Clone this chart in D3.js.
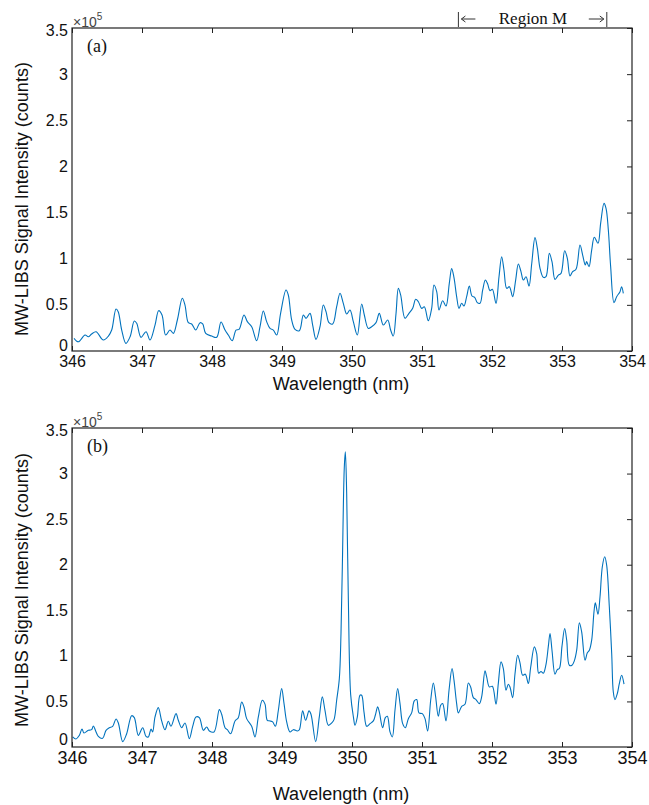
<!DOCTYPE html>
<html><head><meta charset="utf-8">
<script src="https://cdn.jsdelivr.net/npm/d3@7"></script>
<style>
html,body{margin:0;padding:0;background:#fff;}
svg{display:block;}
</style></head>
<body>
<svg id="chart" width="649" height="805"></svg>
<script>
// ---- data (intensity in units of 10^5 counts) ----
const wavelengthA = [346.029,346.09,346.186,346.233,346.28,346.343,346.448,346.52,346.567,346.629,346.66,346.71,346.77,346.83,346.89,346.924,346.986,347.057,347.114,347.186,347.238,347.286,347.338,347.4,347.448,347.505,347.576,347.614,347.662,347.71,347.767,347.829,347.867,347.91,347.995,348.067,348.129,348.186,348.233,348.29,348.343,348.386,348.457,348.505,348.567,348.638,348.686,348.733,348.781,348.829,348.876,348.924,348.98,349.057,349.09,349.138,349.186,349.248,349.305,349.343,349.4,349.438,349.486,349.543,349.59,349.629,349.671,349.724,349.781,349.829,349.876,349.924,349.971,350.019,350.076,350.138,350.176,350.233,350.281,350.343,350.39,350.448,350.51,350.552,350.59,350.629,350.662,350.695,350.757,350.814,350.867,350.91,350.948,350.995,351.033,351.09,351.138,351.171,351.21,351.243,351.295,351.343,351.39,351.424,351.457,351.495,351.529,351.567,351.6,351.638,351.676,351.714,351.752,351.79,351.829,351.867,351.905,351.938,351.971,352.005,352.057,352.1,352.138,352.171,352.21,352.248,352.295,352.338,352.376,352.414,352.448,352.486,352.529,352.567,352.614,352.648,352.686,352.733,352.771,352.819,352.857,352.9,352.948,352.986,353.038,353.076,353.114,353.152,353.2,353.257,353.295,353.333,353.352,353.386,353.424,353.462,353.514,353.552,353.6,353.629,353.662,353.695,353.743,353.781,353.829,353.852,353.876];
const intensityA = [0.137,0.10,0.173,0.155,0.184,0.209,0.119,0.162,0.227,0.455,0.426,0.227,0.083,0.155,0.325,0.30,0.148,0.209,0.119,0.281,0.437,0.39,0.173,0.227,0.191,0.336,0.571,0.498,0.307,0.293,0.227,0.307,0.293,0.191,0.162,0.148,0.314,0.227,0.173,0.112,0.227,0.234,0.39,0.318,0.263,0.112,0.263,0.434,0.318,0.245,0.227,0.173,0.408,0.661,0.607,0.336,0.234,0.22,0.39,0.354,0.408,0.281,0.126,0.263,0.498,0.426,0.307,0.293,0.48,0.625,0.516,0.401,0.444,0.318,0.173,0.509,0.39,0.245,0.263,0.307,0.408,0.281,0.336,0.227,0.162,0.408,0.679,0.607,0.354,0.408,0.462,0.56,0.534,0.462,0.48,0.329,0.462,0.715,0.643,0.444,0.545,0.488,0.733,0.893,0.795,0.589,0.462,0.517,0.488,0.589,0.704,0.596,0.582,0.524,0.517,0.661,0.769,0.726,0.654,0.668,0.517,0.805,1.022,0.878,0.679,0.697,0.589,0.769,0.943,0.86,0.769,0.805,0.704,0.943,1.228,1.112,0.896,0.798,0.805,1.058,0.968,0.776,0.823,0.841,1.087,1.004,0.812,0.86,0.885,1.148,1.04,0.932,0.968,0.914,1.094,1.232,1.167,1.383,1.6,1.546,1.311,0.914,0.524,0.589,0.643,0.697,0.625];

const wavelengthB = [346.01,346.057,346.105,346.143,346.171,346.233,346.281,346.305,346.338,346.376,346.438,346.486,346.533,346.581,346.629,346.662,346.724,346.781,346.852,346.89,346.948,347.01,347.057,347.09,347.129,347.152,347.186,347.233,347.281,347.329,347.376,347.414,347.486,347.519,347.567,347.614,347.676,347.724,347.771,347.819,347.876,347.924,347.962,348.029,348.105,348.138,348.186,348.219,348.267,348.329,348.376,348.424,348.457,348.495,348.567,348.614,348.662,348.719,348.757,348.79,348.829,348.867,348.905,348.948,348.995,349.029,349.067,349.114,349.162,349.219,349.248,349.295,349.338,349.386,349.414,349.481,349.533,349.576,349.614,349.662,349.71,349.743,349.781,349.819,349.843,349.862,349.89,349.905,349.924,349.948,349.981,350.02,350.043,350.076,350.114,350.138,350.171,350.21,350.257,350.305,350.333,350.367,350.39,350.438,350.476,350.505,350.543,350.576,350.614,350.652,350.686,350.724,350.762,350.805,350.852,350.89,350.924,350.957,351.005,351.043,351.081,351.124,351.162,351.195,351.233,351.267,351.295,351.343,351.386,351.429,351.457,351.495,351.519,351.567,351.614,351.662,351.695,351.733,351.771,351.819,351.852,351.9,351.924,351.962,352.005,352.057,352.09,352.129,352.162,352.2,352.233,352.257,352.295,352.329,352.367,352.4,352.438,352.476,352.519,352.552,352.605,352.638,352.667,352.7,352.733,352.771,352.805,352.829,352.857,352.9,352.933,352.962,353.0,353.038,353.067,353.105,353.143,353.176,353.21,353.248,353.281,353.329,353.362,353.391,353.424,353.457,353.476,353.514,353.543,353.576,353.61,353.638,353.676,353.71,353.733,353.757,353.79,353.819,353.852,353.886];
const intensityB = [0.11,0.088,0.128,0.198,0.154,0.183,0.19,0.231,0.176,0.117,0.095,0.183,0.212,0.227,0.308,0.264,0.059,0.146,0.344,0.322,0.128,0.212,0.117,0.11,0.198,0.165,0.33,0.432,0.286,0.19,0.282,0.227,0.366,0.293,0.212,0.264,0.092,0.227,0.33,0.322,0.183,0.22,0.176,0.165,0.41,0.359,0.212,0.19,0.146,0.286,0.322,0.494,0.439,0.311,0.227,0.11,0.33,0.513,0.47,0.293,0.286,0.275,0.227,0.403,0.641,0.476,0.275,0.165,0.19,0.176,0.19,0.396,0.293,0.396,0.359,0.059,0.33,0.55,0.403,0.238,0.264,0.3,0.513,0.75,1.25,1.98,3.07,3.24,2.78,1.61,0.575,0.33,0.238,0.33,0.568,0.568,0.385,0.227,0.256,0.286,0.348,0.44,0.385,0.212,0.322,0.337,0.165,0.11,0.403,0.641,0.476,0.256,0.212,0.311,0.374,0.506,0.52,0.374,0.366,0.311,0.176,0.513,0.703,0.55,0.337,0.458,0.476,0.286,0.623,0.861,0.733,0.476,0.374,0.447,0.469,0.703,0.659,0.542,0.52,0.476,0.549,0.835,0.769,0.659,0.666,0.469,0.696,0.934,0.861,0.623,0.689,0.659,0.542,0.806,1.006,0.923,0.788,0.799,0.696,0.872,1.099,1.026,0.81,0.828,0.81,0.905,1.106,1.245,1.062,0.799,0.85,0.861,1.106,1.3,1.172,0.897,0.897,0.945,1.062,1.362,1.263,0.952,1.033,1.062,1.172,1.483,1.582,1.457,1.648,1.978,2.087,1.996,1.538,1.026,0.604,0.52,0.586,0.696,0.788,0.689];

const xTicks = [346,347,348,349,350,351,352,353,354];
const yTicks = [0,0.5,1,1.5,2,2.5,3,3.5];
const yTickLabels = ["0","0.5","1","1.5","2","2.5","3","3.5"];
const regionM = [351.52, 353.64];
const panelLabels = ["(a)","(b)"];

// ---- drawing ----
const svg = d3.select("#chart");
const sans = "'Liberation Sans', Arial, Helvetica, sans-serif";
const serif = "'Liberation Serif', 'Times New Roman', serif";
const lineColor = "#0072BD";

function drawPanel(o) {
  const x = d3.scaleLinear().domain([346, 354]).range([72, 632]);
  const y = d3.scaleLinear().domain([0, 3.5]).range([o.bottom, o.top]);
  const g = svg.append("g");

  // data line
  const line = d3.line().x((d,i)=>x(o.wl[i])).y((d,i)=>y(o.val[i])).curve(d3.curveCatmullRom.alpha(0.5));
  g.append("path").datum(o.val).attr("d", line)
    .attr("fill","none").attr("stroke",lineColor).attr("stroke-width",1.1);

  // box
  g.append("rect").attr("x",x(346)).attr("y",y(3.5))
    .attr("width",x(354)-x(346)).attr("height",y(0)-y(3.5))
    .attr("fill","none").attr("stroke","#222").attr("stroke-width",1.2);

  // bottom axis (ticks inward, labels below)
  const xb = g.append("g").attr("transform",`translate(0,${y(0)})`)
    .call(d3.axisBottom(x).tickValues(xTicks).tickSize(-5).tickPadding(o.xPad).tickFormat(d3.format("d")));
  xb.select(".domain").remove();
  xb.selectAll("line").attr("stroke","#222");
  xb.selectAll("text").attr("font-family",sans).attr("font-size",o.xFont).attr("fill","#111");
  // top ticks inward
  const xt = g.append("g").attr("transform",`translate(0,${y(3.5)})`)
    .call(d3.axisTop(x).tickValues(xTicks).tickSize(-5).tickFormat(""));
  xt.select(".domain").remove();
  xt.selectAll("line").attr("stroke","#222");

  // left labels
  const yl = g.append("g").attr("transform",`translate(${x(346)},0)`)
    .call(d3.axisLeft(y).tickValues(yTicks).tickSize(0).tickPadding(4).tickFormat((d,i)=>yTickLabels[i]));
  yl.select(".domain").remove();
  yl.selectAll("text").attr("font-family",sans).attr("font-size",16).attr("fill","#111")
    .attr("transform",(d)=> d===0 ? `translate(0,${o.zeroShift})` : (d===3.5 ? "translate(0,2)" : null));
  // right ticks inward
  const yr = g.append("g").attr("transform",`translate(${x(354)},0)`)
    .call(d3.axisRight(y).tickValues(yTicks).tickSize(-5).tickFormat(""));
  yr.select(".domain").remove();
  yr.selectAll("line").attr("stroke","#222");

  // exponent label
  const ex = g.append("text").attr("x",x(346)+1).attr("y",y(3.5)-1)
    .attr("font-family",sans).attr("font-size",14).attr("fill","#444");
  ex.append("tspan").text("\u00d710");
  ex.append("tspan").attr("dy",-7).attr("font-size",10).text("5");

  // panel label
  g.append("text").attr("x",87).attr("y",y(3.5)+24)
    .attr("font-family",serif).attr("font-size",18).attr("fill","#111").text(o.label);

  // axis titles
  g.append("text").attr("x",341).attr("y",o.xTitleY).attr("text-anchor","middle")
    .attr("font-family",sans).attr("font-size",18).attr("fill","#111").text("Wavelength (nm)");
  g.append("text").attr("transform",`translate(28,${o.yTitleY}) rotate(-90)`).attr("text-anchor","middle")
    .attr("font-family",sans).attr("font-size",18).attr("fill","#111").text("MW-LIBS Signal Intensity (counts)");

  return x;
}

const xA = drawPanel({top:28, bottom:351, wl:wavelengthA, val:intensityA, label:panelLabels[0],
  xFont:16, xPad:5, xTitleY:390, yTitleY:199, zeroShift:-6});
drawPanel({top:428, bottom:747, wl:wavelengthB, val:intensityB, label:panelLabels[1],
  xFont:18, xPad:4, xTitleY:800, yTitleY:590, zeroShift:-8});

// Region M annotation
const rg = svg.append("g");
regionM.forEach(w => {
  rg.append("line").attr("x1",xA(w)).attr("x2",xA(w)).attr("y1",12).attr("y2",27)
    .attr("stroke","#333").attr("stroke-width",1);
});
function arrow(x1, x2, yy) {
  rg.append("line").attr("x1",x1).attr("x2",x2).attr("y1",yy).attr("y2",yy)
    .attr("stroke","#333").attr("stroke-width",1);
  const dir = x2 > x1 ? -1 : 1;
  rg.append("path").attr("d",`M${x2+dir*4},${yy-3} L${x2},${yy} L${x2+dir*4},${yy+3}`)
    .attr("fill","none").attr("stroke","#333").attr("stroke-width",1);
}
arrow(xA(regionM[0])+17, xA(regionM[0])+3, 19);
arrow(xA(regionM[1])-18, xA(regionM[1])-3, 19);
rg.append("text").attr("x",533).attr("y",24).attr("text-anchor","middle")
  .attr("font-family",serif).attr("font-size",17).attr("fill","#111").text("Region M");
</script>
</body></html>
